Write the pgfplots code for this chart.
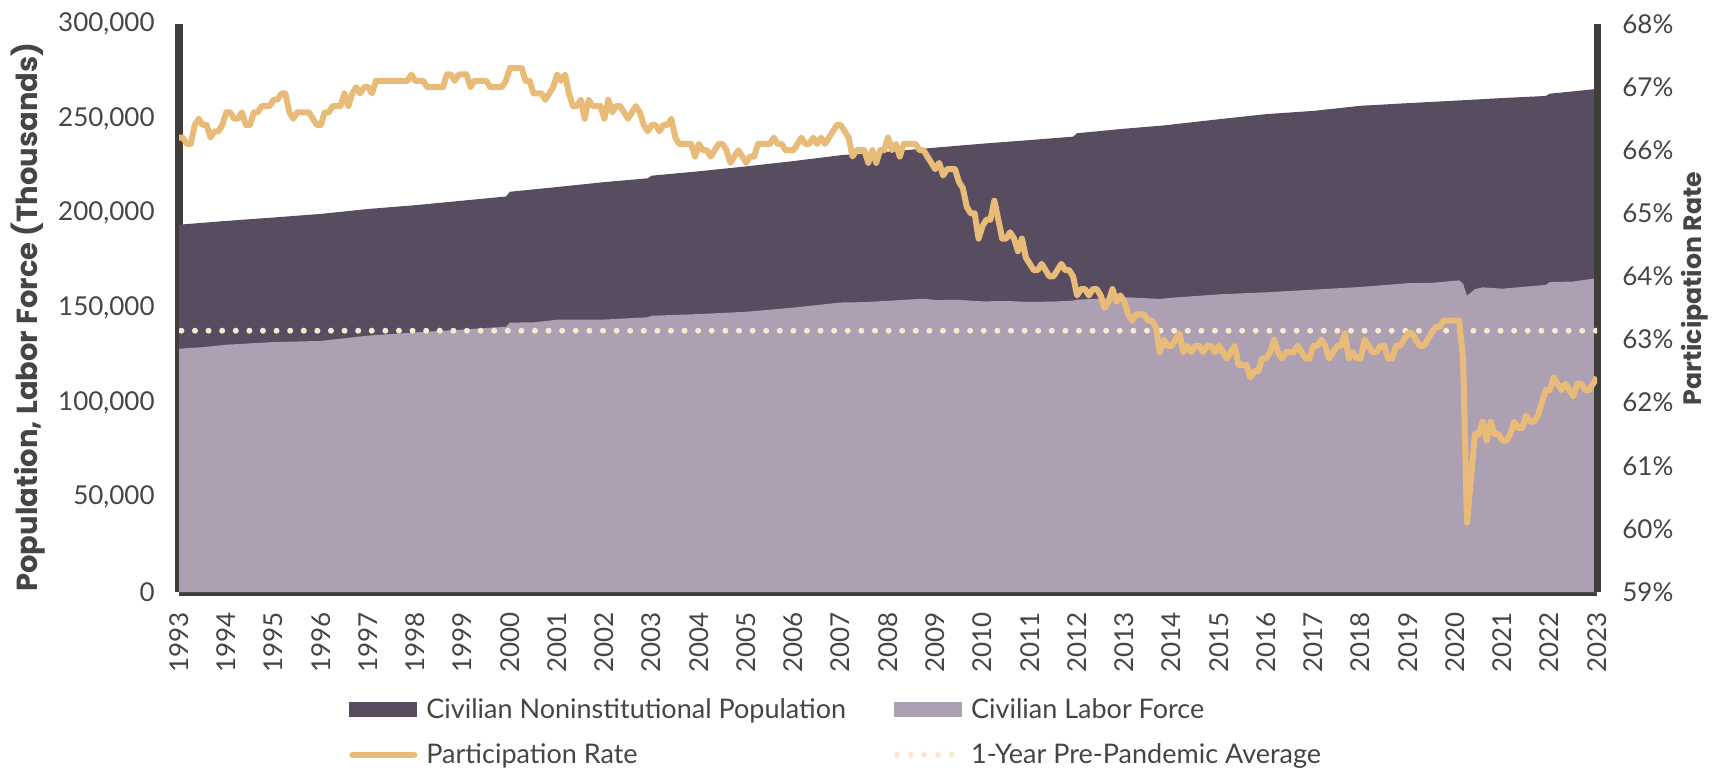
\documentclass[border=0pt]{standalone}
\usepackage{pgfplots}
\pgfplotsset{compat=1.18}
\usepackage{fontspec}
\setmainfont{Lato}
\newfontfamily\titlefont{Poppins}
\definecolor{popcol}{HTML}{584C61}
\definecolor{lfcol}{HTML}{ADA0B2}
\definecolor{tancol}{HTML}{E8BB78}
\definecolor{dotcol}{HTML}{F7E8CF}
\definecolor{axisgray}{HTML}{403E3A}
\definecolor{textgray}{HTML}{454545}
\newcommand\tickfont{\fontsize{13}{15}\selectfont}
\newcommand\xtickfont{\fontsize{13}{15}\selectfont}
\newcommand\legfont{\fontsize{13.5}{16}\selectfont}
\newcommand\ttlfontL{\titlefont\bfseries\fontsize{14.5}{16}\selectfont}
\newcommand\ttlfontR{\titlefont\bfseries\fontsize{12.6}{15}\selectfont}
\begin{document}
\begin{tikzpicture}
\path[use as bounding box] (0,0) rectangle (865.5pt,383.5pt);
\begin{axis}[
  at={(89.5pt,87.5pt)}, anchor=south west, scale only axis,
  width=709pt, height=284pt,
  xmin=1993, xmax=2023, ymin=0, ymax=300000,
  scaled y ticks=false,
  axis x line*=bottom, axis y line*=left,
  axis line style={-, line width=3.5pt, draw=axisgray},
  tick style={draw=none},
  xtick={1993,1994,...,2023},
  xticklabel style={rotate=90, anchor=east, inner sep=0pt, font=\xtickfont, text=textgray,
    /pgf/number format/1000 sep={}, /pgf/number format/assume math mode=true},
  xticklabel shift=10pt,
  ytick={0,50000,100000,150000,200000,250000,300000},
  yticklabels={0,{50,000},{100,000},{150,000},{200,000},{250,000},{300,000}},
  yticklabel style={anchor=east, inner sep=0pt, font=\tickfont, text=textgray},
  yticklabel shift=12pt,
  every axis y label/.style={at={(axis description cs:-0.1065,0.484)}, rotate=90, anchor=center, font=\ttlfontL, text=textgray},
  ylabel={Population, Labor Force (Thousands)},
]
\addplot[fill=popcol, draw=none, forget plot] coordinates {
(1993,194000) (1994,196000) (1995,197800) (1996,199700) (1997,202300)
(1998,204300) (1999,206700) (1999.917,208900) (2000,211400) (2001,213900)
(2002,216500) (2002.917,218500) (2003,219900) (2004,222200) (2005,224800)
(2006,227600) (2007,230700) (2008,232600) (2009,234700) (2010,236800)
(2011,238700) (2011.917,240500) (2012,242300) (2013,244700) (2013.917,246600)
(2014,246900) (2015,249700) (2016,252400) (2017,254100) (2018,256800)
(2019,258200) (2020,259500) (2021,260900) (2021.917,262000) (2022,263200)
(2023,265700)
} \closedcycle;
\addplot[fill=lfcol, draw=none, forget plot] coordinates {
(1993,128500) (1993.5,129300) (1994,130600) (1995,132000) (1996,132600)
(1997,135400) (1998,137100) (1999,138600) (1999.917,140100) (2000,142300)
(2000.5,142400) (2001,143800) (2002,143900) (2002.917,145100) (2003,145900)
(2004,146800) (2005,148000) (2006,150200) (2007,152900) (2007.5,153100)
(2008,153800) (2008.75,154900) (2009,154200) (2009.5,154300) (2010,153500)
(2010.5,153700) (2011,153200) (2011.5,153400) (2011.917,153900) (2012,154400)
(2012.5,155000) (2013,155700) (2013.75,154800) (2014,155400) (2015,157200)
(2016,158300) (2017,159700) (2018,161100) (2019,163100) (2019.5,163300)
(2020,164400) (2020.083,164600) (2020.167,162800) (2020.25,156500) (2020.333,158200)
(2020.417,160000) (2020.583,160900) (2021,160200) (2021.5,161300) (2021.917,162200)
(2022,163700) (2022.5,164000) (2023,165800)
} \closedcycle;
\end{axis}
\begin{axis}[
  at={(89.5pt,87.5pt)}, anchor=south west, scale only axis,
  width=709pt, height=284pt,
  xmin=1993, xmax=2023, ymin=59, ymax=68,
  axis x line=none, axis y line*=right,
  axis line style={-, line width=3.5pt, draw=axisgray},
  tick style={draw=none},
  ytick={59,60,61,62,63,64,65,66,67,68},
  yticklabels={59\%,60\%,61\%,62\%,63\%,64\%,65\%,66\%,67\%,68\%},
  yticklabel style={anchor=west, inner sep=0pt, font=\tickfont, text=textgray},
  yticklabel shift=12.5pt,
  every axis y label/.style={at={(axis description cs:1.069,0.534)}, rotate=90, anchor=center, font=\ttlfontR, text=textgray},
  ylabel={Participation Rate},
  legend style={at={(axis description cs:0.1199,-0.1796)}, anchor=north west,
    draw=none, fill=none, font=\legfont, text=textgray, inner sep=0pt,
    legend columns=2, row sep=7pt,
    /tikz/every odd column/.append style={column sep=2.5pt},
    /tikz/every even column/.append style={column sep=22pt}},
  legend cell align=left,
]
\addlegendimage{legend image code/.code={\path[draw=none,fill=none] (0pt,-4pt) rectangle (34pt,4pt); \fill[popcol, draw=none] (0pt,-3.75pt) rectangle (34pt,3.75pt);}}
\addlegendentry{Civilian Noninstitutional Population}
\addlegendimage{legend image code/.code={\path[draw=none,fill=none] (0pt,-4pt) rectangle (34pt,4pt); \fill[lfcol, draw=none] (0pt,-3.75pt) rectangle (34pt,3.75pt);}}
\addlegendentry{Civilian Labor Force}
\addlegendimage{legend image code/.code={\path[draw=none,fill=none] (0pt,-4pt) rectangle (34pt,4pt); \draw[tancol, line width=3pt, line cap=round] (1.5pt,0pt) -- (32.5pt,0pt);}}
\addlegendentry{Participation Rate}
\addlegendimage{legend image code/.code={\path[draw=none,fill=none] (0pt,-4pt) rectangle (34pt,4pt); \draw[dotcol, line width=3pt, line cap=round, dash pattern=on 0pt off 6.8pt] (1.5pt,0pt) -- (30pt,0pt);}}
\addlegendentry{1-Year Pre-Pandemic Average}
\addplot[dotcol, line width=3pt, line cap=round, dash pattern=on 0pt off 6.8pt, forget plot]
  coordinates {(1993.05,63.14) (2023,63.14)};
\addplot[tancol, line width=3pt, line join=round, forget plot]
  table[row sep=\\, header=false, x expr={1993+\coordindex/12}, y index=0] {
66.2\\66.2\\66.1\\66.1\\66.4\\66.5\\66.4\\66.4\\66.2\\66.3\\66.3\\66.4\\
66.6\\66.6\\66.5\\66.5\\66.6\\66.4\\66.4\\66.6\\66.6\\66.7\\66.7\\66.7\\
66.8\\66.8\\66.9\\66.9\\66.6\\66.5\\66.6\\66.6\\66.6\\66.6\\66.5\\66.4\\
66.4\\66.6\\66.6\\66.7\\66.7\\66.7\\66.9\\66.7\\66.9\\67.0\\66.9\\67.0\\
67.0\\66.9\\67.1\\67.1\\67.1\\67.1\\67.1\\67.1\\67.1\\67.1\\67.1\\67.2\\
67.1\\67.1\\67.1\\67.0\\67.0\\67.0\\67.0\\67.0\\67.2\\67.2\\67.1\\67.2\\
67.2\\67.2\\67.0\\67.1\\67.1\\67.1\\67.1\\67.0\\67.0\\67.0\\67.0\\67.1\\
67.3\\67.3\\67.3\\67.3\\67.1\\67.1\\66.9\\66.9\\66.9\\66.8\\66.9\\67.0\\
67.2\\67.1\\67.2\\66.9\\66.7\\66.7\\66.8\\66.5\\66.8\\66.7\\66.7\\66.7\\
66.5\\66.8\\66.6\\66.7\\66.7\\66.6\\66.5\\66.6\\66.7\\66.6\\66.4\\66.3\\
66.4\\66.4\\66.3\\66.4\\66.4\\66.5\\66.2\\66.1\\66.1\\66.1\\66.1\\65.9\\
66.1\\66.0\\66.0\\65.9\\66.0\\66.1\\66.1\\66.0\\65.8\\65.9\\66.0\\65.9\\
65.8\\65.9\\65.9\\66.1\\66.1\\66.1\\66.1\\66.2\\66.1\\66.1\\66.0\\66.0\\
66.0\\66.1\\66.2\\66.1\\66.1\\66.2\\66.1\\66.2\\66.1\\66.2\\66.3\\66.4\\
66.4\\66.3\\66.2\\65.9\\66.0\\66.0\\66.0\\65.8\\66.0\\65.8\\66.0\\66.0\\
66.2\\66.0\\66.1\\65.9\\66.1\\66.1\\66.1\\66.1\\66.0\\66.0\\65.9\\65.8\\
65.7\\65.8\\65.6\\65.7\\65.7\\65.7\\65.5\\65.4\\65.1\\65.0\\65.0\\64.6\\
64.8\\64.9\\64.9\\65.2\\64.9\\64.6\\64.6\\64.7\\64.6\\64.4\\64.6\\64.3\\
64.2\\64.1\\64.1\\64.2\\64.1\\64.0\\64.0\\64.1\\64.2\\64.1\\64.1\\64.0\\
63.7\\63.8\\63.8\\63.7\\63.8\\63.8\\63.7\\63.5\\63.6\\63.8\\63.6\\63.7\\
63.6\\63.4\\63.3\\63.4\\63.4\\63.4\\63.3\\63.3\\63.2\\62.8\\63.0\\62.9\\
62.9\\63.0\\63.1\\62.8\\62.9\\62.8\\62.9\\62.9\\62.8\\62.9\\62.9\\62.8\\
62.9\\62.8\\62.7\\62.8\\62.9\\62.6\\62.6\\62.6\\62.4\\62.5\\62.5\\62.7\\
62.7\\62.8\\63.0\\62.8\\62.7\\62.8\\62.8\\62.8\\62.9\\62.8\\62.7\\62.7\\
62.9\\62.9\\63.0\\62.9\\62.7\\62.8\\62.9\\62.9\\63.1\\62.7\\62.8\\62.7\\
62.7\\63.0\\62.9\\62.8\\62.8\\62.9\\62.9\\62.7\\62.7\\62.9\\62.9\\63.0\\
63.1\\63.1\\63.0\\62.9\\62.9\\63.0\\63.1\\63.2\\63.2\\63.3\\63.3\\63.3\\
63.3\\63.3\\62.7\\60.1\\60.8\\61.5\\61.5\\61.7\\61.4\\61.7\\61.5\\61.5\\
61.4\\61.4\\61.5\\61.7\\61.6\\61.6\\61.8\\61.7\\61.7\\61.8\\62.0\\62.2\\
62.2\\62.4\\62.3\\62.2\\62.3\\62.2\\62.1\\62.3\\62.3\\62.2\\62.2\\62.3\\
62.4\\
};
\end{axis}
\end{tikzpicture}
\end{document}
